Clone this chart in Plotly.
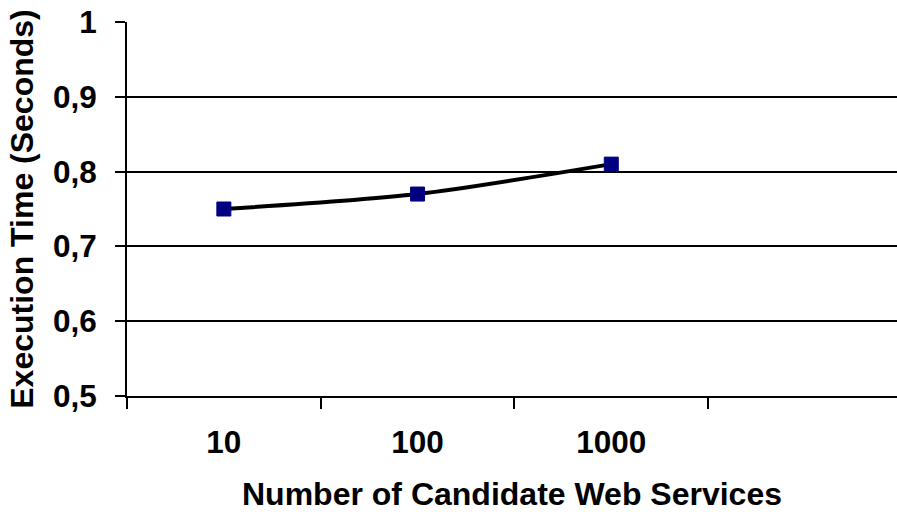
import plotly.graph_objects as go

categories = ["10", "100", "1000"]
exec_time = [0.75, 0.77, 0.81]
y_tickvals = [0.5, 0.6, 0.7, 0.8, 0.9, 1.0]
y_ticktext = ["0,5", "0,6", "0,7", "0,8", "0,9", "1"]
y_gridvals = [0.6, 0.7, 0.8, 0.9]

FONT = "Liberation Sans, Arial, sans-serif"

fig = go.Figure()
fig.add_trace(go.Scatter(
    x=categories, y=exec_time, mode="lines+markers",
    line=dict(color="black", width=4, shape="spline", smoothing=0.8),
    marker=dict(symbol="square", size=14, color="#000080",
                line=dict(color="#000080", width=1)),
    showlegend=False,
))

fig.update_layout(
    width=897, height=512,
    margin=dict(l=127, r=0, t=22, b=116),
    paper_bgcolor="white", plot_bgcolor="white",
    font=dict(family=FONT, size=31, color="black", weight="bold"),
    xaxis=dict(
        type="category", range=[-0.5, 3.475], automargin=False,
        tickson="boundaries", ticks="outside", ticklen=11, tickwidth=2, tickcolor="black",
        showline=True, linecolor="black", linewidth=2, showgrid=False, zeroline=False,
        tickfont=dict(family=FONT, size=31.5, weight="bold"),
        ticklabelstandoff=17,
        title=dict(text="Number of Candidate Web Services",
                   font=dict(family=FONT, size=32, weight="bold"), standoff=28),
    ),
    yaxis=dict(
        range=[0.5, 1.0], tickvals=y_tickvals, ticktext=y_ticktext, automargin=False,
        ticks="outside", ticklen=10, tickwidth=2, tickcolor="black",
        showline=True, linecolor="black", linewidth=2, showgrid=False, zeroline=False,
        tickfont=dict(family=FONT, size=31.5, weight="bold"),
        ticklabelstandoff=12,
        minor=dict(tickvals=y_gridvals, showgrid=True, gridcolor="black", gridwidth=2, ticks=""),
        title=dict(text="Execution Time (Seconds)",
                   font=dict(family=FONT, size=32, weight="bold"), standoff=10),
    ),
)

fig.write_html("out.html", config={"displayModeBar": False},
               post_script="document.body.style.margin='0';document.body.style.overflow='hidden';")
